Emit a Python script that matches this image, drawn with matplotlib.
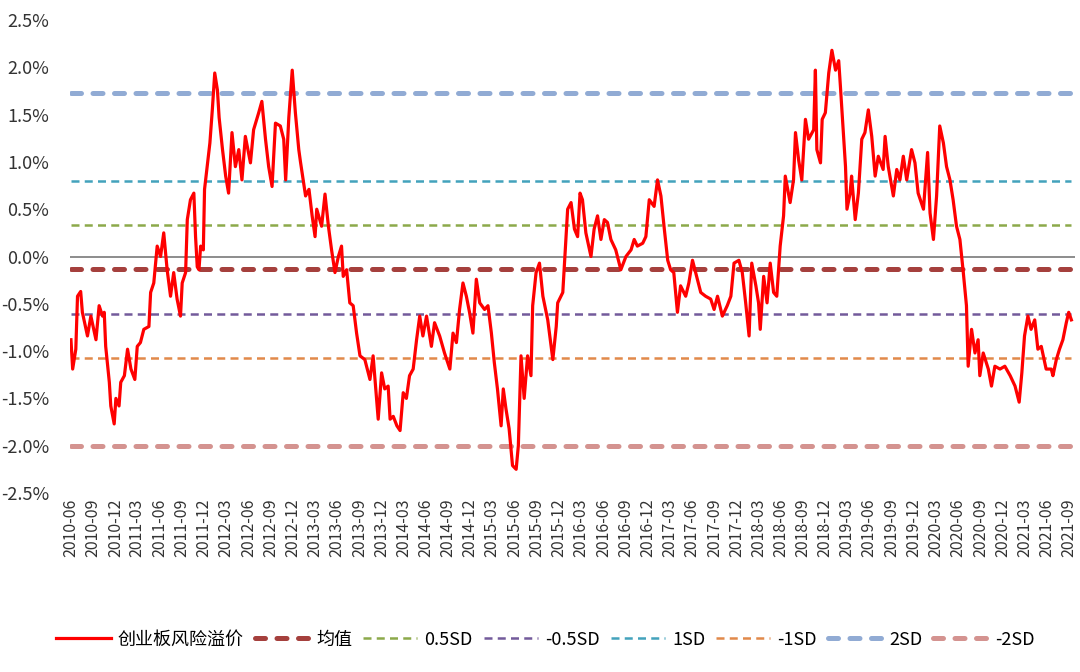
import matplotlib
matplotlib.use('Agg')
import matplotlib.pyplot as plt
import matplotlib.dates as mdates
from matplotlib.ticker import FuncFormatter
import numpy as np
import pandas as pd

plt.rcParams['font.family'] = ['Noto Sans CJK SC', 'DejaVu Sans']
plt.rcParams['axes.unicode_minus'] = False

# 创业板风险溢价 (%)
dates = [
    '2010-06-01', '2010-06-08', '2010-06-21', '2010-06-28', '2010-07-11', '2010-07-18', '2010-08-08', '2010-08-22',
    '2010-09-12', '2010-09-25', '2010-10-09', '2010-10-16', '2010-10-22', '2010-11-06', '2010-11-12', '2010-11-26',
    '2010-12-03', '2010-12-16', '2010-12-23', '2011-01-07', '2011-01-20', '2011-02-03', '2011-02-19', '2011-03-01',
    '2011-03-14', '2011-03-28', '2011-04-18', '2011-04-25', '2011-05-08', '2011-05-22', '2011-06-05', '2011-06-18',
    '2011-07-02', '2011-07-16', '2011-07-29', '2011-08-12', '2011-08-26', '2011-09-02', '2011-09-16', '2011-09-23',
    '2011-10-06', '2011-10-20', '2011-10-27', '2011-11-03', '2011-11-10', '2011-11-17', '2011-11-28', '2011-12-03',
    '2011-12-14', '2011-12-25', '2012-01-04', '2012-01-14', '2012-01-25', '2012-02-01', '2012-02-15', '2012-02-28',
    '2012-03-11', '2012-03-25', '2012-04-08', '2012-04-22', '2012-05-05', '2012-05-19', '2012-06-09', '2012-06-22',
    '2012-07-13', '2012-07-26', '2012-08-10', '2012-08-23', '2012-09-06', '2012-09-20', '2012-10-10', '2012-10-24',
    '2012-11-01', '2012-11-14', '2012-11-28', '2012-12-11', '2012-12-25', '2013-01-01', '2013-01-22', '2013-02-05',
    '2013-02-18', '2013-03-02', '2013-03-09', '2013-03-29', '2013-04-12', '2013-04-26', '2013-05-09', '2013-05-23',
    '2013-06-06', '2013-06-19', '2013-06-26', '2013-07-10', '2013-07-23', '2013-08-06', '2013-08-20', '2013-09-03',
    '2013-09-23', '2013-10-14', '2013-10-27', '2013-11-17', '2013-12-01', '2013-12-14', '2013-12-28', '2014-01-05',
    '2014-01-18', '2014-02-02', '2014-02-15', '2014-02-28', '2014-03-13', '2014-03-26', '2014-04-10', '2014-04-24',
    '2014-05-07', '2014-05-20', '2014-06-04', '2014-06-24', '2014-07-07', '2014-07-28', '2014-08-17', '2014-09-08',
    '2014-09-21', '2014-10-05', '2014-10-18', '2014-11-01', '2014-11-15', '2014-11-28', '2014-12-12', '2014-12-26',
    '2015-01-09', '2015-01-29', '2015-02-12', '2015-02-26', '2015-03-10', '2015-03-23', '2015-04-07', '2015-04-16',
    '2015-04-27', '2015-05-10', '2015-05-24', '2015-06-08', '2015-06-17', '2015-06-28', '2015-07-11', '2015-07-25',
    '2015-08-08', '2015-08-15', '2015-08-29', '2015-09-12', '2015-09-26', '2015-10-16', '2015-11-06', '2015-11-20',
    '2015-11-26', '2015-12-17', '2015-12-30', '2016-01-06', '2016-01-20', '2016-02-03', '2016-02-16', '2016-02-26',
    '2016-03-07', '2016-03-21', '2016-04-11', '2016-04-24', '2016-05-08', '2016-05-22', '2016-06-05', '2016-06-18',
    '2016-07-02', '2016-07-22', '2016-08-12', '2016-09-02', '2016-09-23', '2016-10-06', '2016-10-19', '2016-11-10',
    '2016-11-23', '2016-12-07', '2016-12-27', '2017-01-10', '2017-01-24', '2017-02-07', '2017-02-21', '2017-03-05',
    '2017-03-18', '2017-04-02', '2017-04-15', '2017-05-06', '2017-05-19', '2017-06-03', '2017-06-16', '2017-07-07',
    '2017-07-27', '2017-08-17', '2017-08-31', '2017-09-14', '2017-10-04', '2017-10-24', '2017-11-08', '2017-11-21',
    '2017-12-11', '2017-12-25', '2018-01-08', '2018-01-22', '2018-02-02', '2018-02-19', '2018-03-02', '2018-03-09',
    '2018-03-23', '2018-04-06', '2018-04-19', '2018-05-03', '2018-05-16', '2018-05-30', '2018-06-13', '2018-06-20',
    '2018-07-10', '2018-07-24', '2018-08-01', '2018-08-14', '2018-08-27', '2018-09-11', '2018-09-24', '2018-10-15',
    '2018-10-22', '2018-10-28', '2018-11-12', '2018-11-19', '2018-12-02', '2018-12-16', '2018-12-29', '2019-01-13',
    '2019-01-26', '2019-02-02', '2019-02-16', '2019-02-23', '2019-03-01', '2019-03-14', '2019-03-20', '2019-04-04',
    '2019-04-17', '2019-05-01', '2019-05-14', '2019-05-28', '2019-06-11', '2019-06-25', '2019-07-08', '2019-07-28',
    '2019-08-05', '2019-08-18', '2019-09-08', '2019-09-22', '2019-10-05', '2019-10-19', '2019-11-02', '2019-11-22',
    '2019-12-06', '2019-12-19', '2020-01-10', '2020-01-27', '2020-02-06', '2020-02-20', '2020-03-04', '2020-03-17',
    '2020-04-01', '2020-04-14', '2020-04-28', '2020-05-11', '2020-05-25', '2020-06-08', '2020-06-22', '2020-07-05',
    '2020-07-12', '2020-07-26', '2020-08-09', '2020-08-22', '2020-08-29', '2020-09-12', '2020-10-03', '2020-10-16',
    '2020-10-30', '2020-11-20', '2020-12-10', '2021-01-01', '2021-01-21', '2021-02-07', '2021-02-18', '2021-03-01',
    '2021-03-15', '2021-03-28', '2021-04-12', '2021-04-25', '2021-05-09', '2021-05-29', '2021-06-19', '2021-06-26',
    '2021-07-10', '2021-07-23', '2021-08-06', '2021-08-20', '2021-08-30', '2021-09-10',
]
premium = [
    -0.88, -1.19, -0.98, -0.42, -0.37, -0.59, -0.84, -0.63,
    -0.88, -0.52, -0.63, -0.59, -0.95, -1.33, -1.58, -1.77,
    -1.50, -1.58, -1.33, -1.26, -0.98, -1.19, -1.30, -0.95,
    -0.91, -0.77, -0.74, -0.38, -0.28, 0.11, 0.00, 0.25,
    -0.14, -0.42, -0.17, -0.45, -0.63, -0.28, -0.17, 0.39,
    0.60, 0.67, 0.21, -0.11, -0.14, 0.11, 0.07, 0.71,
    0.95, 1.20, 1.55, 1.94, 1.76, 1.47, 1.13, 0.85,
    0.67, 1.31, 0.95, 1.13, 0.81, 1.27, 0.99, 1.34,
    1.52, 1.64, 1.24, 0.95, 0.74, 1.41, 1.38, 1.24,
    0.81, 1.47, 1.97, 1.52, 1.13, 1.00, 0.64, 0.71,
    0.43, 0.21, 0.50, 0.32, 0.66, 0.32, 0.07, -0.17,
    0.00, 0.11, -0.21, -0.14, -0.49, -0.52, -0.81, -1.05,
    -1.09, -1.30, -1.05, -1.72, -1.23, -1.40, -1.37, -1.72,
    -1.69, -1.79, -1.84, -1.44, -1.50, -1.26, -1.19, -0.88,
    -0.63, -0.84, -0.63, -0.95, -0.70, -0.84, -1.02, -1.19,
    -0.81, -0.91, -0.56, -0.28, -0.42, -0.59, -0.81, -0.24,
    -0.49, -0.56, -0.52, -0.81, -1.12, -1.40, -1.79, -1.40,
    -1.61, -1.82, -2.21, -2.25, -2.00, -1.05, -1.50, -1.05,
    -1.26, -0.52, -0.17, -0.07, -0.42, -0.67, -1.09, -0.74,
    -0.49, -0.38, 0.18, 0.50, 0.57, 0.29, 0.21, 0.67,
    0.60, 0.25, 0.00, 0.29, 0.43, 0.18, 0.39, 0.36,
    0.18, 0.07, -0.14, 0.00, 0.07, 0.18, 0.11, 0.14,
    0.21, 0.60, 0.53, 0.81, 0.64, 0.29, -0.04, -0.14,
    -0.17, -0.59, -0.31, -0.42, -0.28, -0.04, -0.17, -0.38,
    -0.42, -0.45, -0.56, -0.42, -0.63, -0.52, -0.42, -0.07,
    -0.04, -0.17, -0.49, -0.84, -0.07, -0.31, -0.49, -0.77,
    -0.21, -0.49, -0.07, -0.38, -0.42, 0.11, 0.43, 0.85,
    0.57, 0.81, 1.31, 1.02, 0.81, 1.45, 1.24, 1.34,
    1.97, 1.13, 0.99, 1.45, 1.52, 1.94, 2.18, 1.97,
    2.07, 1.80, 1.24, 0.95, 0.50, 0.67, 0.85, 0.39,
    0.67, 1.24, 1.31, 1.55, 1.27, 0.85, 1.06, 0.92,
    1.27, 0.95, 0.64, 0.92, 0.81, 1.06, 0.81, 1.13,
    0.99, 0.67, 0.50, 1.10, 0.46, 0.18, 0.64, 1.38,
    1.20, 0.95, 0.81, 0.60, 0.32, 0.18, -0.17, -0.52,
    -1.16, -0.77, -1.02, -0.88, -1.26, -1.02, -1.19, -1.37,
    -1.16, -1.19, -1.16, -1.26, -1.37, -1.54, -1.23, -0.84,
    -0.63, -0.77, -0.67, -0.98, -0.95, -1.19, -1.19, -1.26,
    -1.09, -0.98, -0.88, -0.70, -0.59, -0.67,
]

# reference levels (%)
mean_level = -0.137
sd = 0.935
bands = ['均值', '0.5SD', '-0.5SD', '1SD', '-1SD', '2SD', '-2SD']
band_mult = [0, 0.5, -0.5, 1, -1, 2, -2]

x = pd.to_datetime(dates)
y = np.array(premium)

fig = plt.figure(figsize=(10.8, 6.72), dpi=100)
ax = fig.add_axes([0.0648, 0.2664, 0.9306, 0.7038])

# zero line (Excel horizontal axis)
ax.axhline(0, color='#8c8c8c', lw=1.4, zorder=1)

thick = dict(lw=3.6, solid_capstyle='round', dash_capstyle='round', dashes=(2.0, 2.3))
thin = dict(lw=1.8, dash_capstyle='butt', dashes=(3.2, 2.1))
band_style = {
    '均值': dict(color='#A5403D', **thick),
    '0.5SD': dict(color='#8CA94A', **thin),
    '-0.5SD': dict(color='#735A9B', **thin),
    '1SD': dict(color='#43A2BC', **thin),
    '-1SD': dict(color='#E1894A', **thin),
    '2SD': dict(color='#91ABD4', **thick),
    '-2SD': dict(color='#D49390', **thick),
}

line, = ax.plot(x, y, color='#FF0000', lw=2.3, zorder=5, label='创业板风险溢价')
handles = [line]
for name, k in zip(bands, band_mult):
    lvl = mean_level + k * sd
    h, = ax.plot([x[0], x[-1]], [lvl, lvl], zorder=3, label=name, **band_style[name])
    handles.append(h)

ax.set_ylim(-2.5, 2.5)
ax.set_yticks(np.arange(-2.5, 2.51, 0.5))
ax.yaxis.set_major_formatter(FuncFormatter(lambda v, p: '{:.1f}%'.format(v)))
ax.set_xlim(pd.Timestamp('2010-05-28'), pd.Timestamp('2021-09-25'))
ticks = pd.date_range('2010-06-01', '2021-09-01', freq='3MS')
ax.set_xticks(ticks)
ax.xaxis.set_major_formatter(mdates.DateFormatter('%Y-%m'))
ax.tick_params(axis='x', labelrotation=90, length=0, labelsize=11.5, pad=4, colors='#333333')
ax.tick_params(axis='y', length=0, labelsize=13, pad=15, colors='#333333')
for s in ax.spines.values():
    s.set_visible(False)

fig.legend(handles=handles, loc='center', bbox_to_anchor=(0.505, 0.048), ncol=8, frameon=False,
           fontsize=13, handlelength=3.0, handletextpad=0.4, columnspacing=0.6)

fig.savefig('out.png', dpi=100)
